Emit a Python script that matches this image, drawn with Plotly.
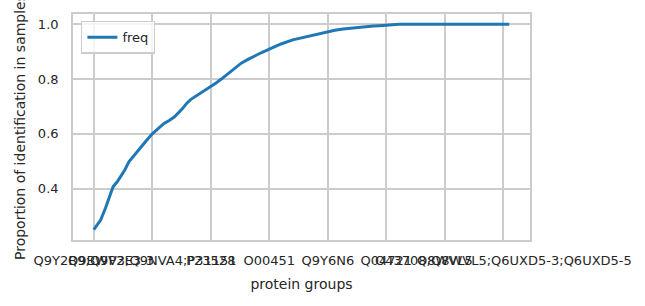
import plotly.graph_objects as go

# ---- data ----
n_groups = 3551  # number of protein groups (x positions 0 .. n_groups-1)

# sampled points of the cumulative 'freq' curve (index of protein group, proportion)
sample_index = [0, 30, 60, 100, 130, 165, 200, 230, 265, 300, 345, 390, 445,
                500, 550, 600, 645, 690, 760, 795, 830, 870, 915, 960, 1000,
                1045, 1090, 1140, 1190, 1260, 1310, 1360, 1430, 1500, 1600,
                1700, 1770, 1840, 1920, 2000, 2060, 2130, 2190, 2240, 2300,
                2390, 2440, 2500, 2560, 2610, 3550]
freq = [0.250, 0.268, 0.286, 0.329, 0.365, 0.407, 0.425, 0.444, 0.468, 0.498,
        0.522, 0.547, 0.573, 0.600, 0.620, 0.638, 0.649, 0.662, 0.693, 0.712,
        0.726, 0.737, 0.748, 0.761, 0.772, 0.786, 0.800, 0.817, 0.833, 0.858,
        0.870, 0.882, 0.896, 0.909, 0.928, 0.943, 0.950, 0.958, 0.966, 0.973,
        0.978, 0.983, 0.986, 0.989, 0.990, 0.994, 0.995, 0.997, 0.997, 1.000,
        1.000]

# tick labels (protein group names at every 500th group)
tick_labels = [
    "Q9Y2B9;Q9P2E3-3",
    "Q9BWV3;Q9NVA4;P31151",
    "P23528",
    "O00451",
    "Q9Y6N6",
    "Q04721",
    "Q8WVL5",
    "O43708;Q8WVL5;Q6UXD5-3;Q6UXD5-5",
]
tick_step = 500

y_ticks = [0.4, 0.6, 0.8, 1.0]

# ---- figure ----
font_family = "DejaVu Sans"
text_color = "#262626"
grid_color = "#cccccc"

fig = go.Figure()
fig.add_trace(go.Scatter(
    x=sample_index, y=freq, mode="lines", name="freq",
    line=dict(color="#1f77b4", width=3),
))

span = n_groups - 1
x_range = [-0.05 * span, 1.05 * span]
ymin, ymax = min(freq), max(freq)
ypad = 0.05 * (ymax - ymin)

fig.update_layout(
    width=645, height=306,
    margin=dict(l=73, r=115, t=14, b=66),
    paper_bgcolor="white", plot_bgcolor="white",
    font=dict(family=font_family, color=text_color, size=13),
    showlegend=True,
    legend=dict(
        x=0.0175, y=0.97, xanchor="left", yanchor="top",
        bgcolor="rgba(255,255,255,0.8)", bordercolor=grid_color, borderwidth=1.4,
        font=dict(size=13, color=text_color),
    ),
)
fig.update_xaxes(
    range=x_range,
    tickmode="array",
    tickvals=[i * tick_step for i in range(len(tick_labels))],
    ticktext=tick_labels,
    tickangle=0,
    ticklabeloverflow="allow",
    showgrid=True, gridcolor=grid_color, gridwidth=1.7,
    zeroline=False,
    showline=True, linecolor=grid_color, linewidth=1.7, mirror=True,
    ticks="outside", ticklen=8, tickcolor="rgba(0,0,0,0)",
    tickfont=dict(size=13, color=text_color),
    title=dict(text="protein groups", font=dict(size=14, color=text_color), standoff=12),
)
fig.update_yaxes(
    range=[ymin - ypad, ymax + ypad],
    tickmode="array", tickvals=y_ticks, ticktext=[f"{v:.1f}" for v in y_ticks],
    showgrid=True, gridcolor=grid_color, gridwidth=1.7,
    zeroline=False,
    showline=True, linecolor=grid_color, linewidth=1.7, mirror=True,
    ticks="outside", ticklen=10, tickcolor="rgba(0,0,0,0)",
    tickfont=dict(size=13, color=text_color),
    title=dict(text="Proportion of identification in samples",
               font=dict(size=14, color=text_color), standoff=9),
)

fig.write_html("out.html")
